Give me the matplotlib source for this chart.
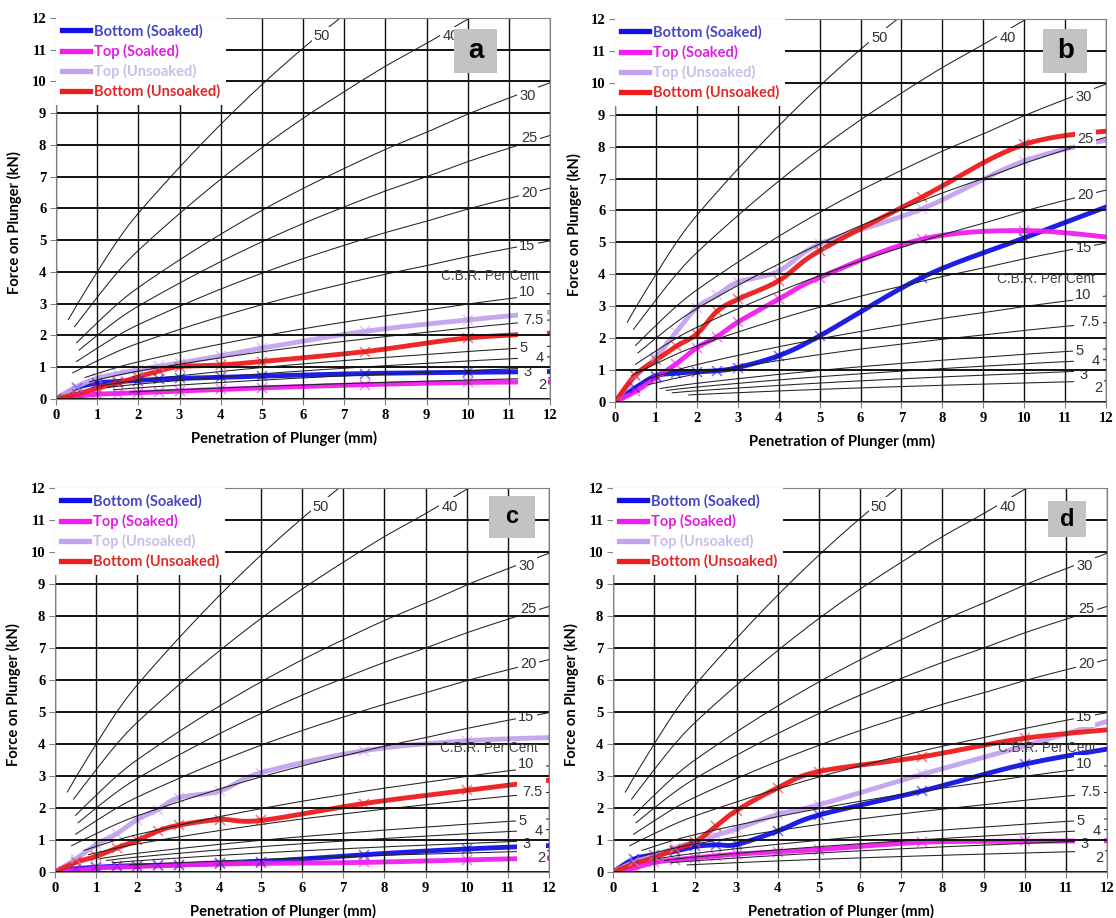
import numpy as np
import matplotlib
matplotlib.use("Agg")
import matplotlib.pyplot as plt
from matplotlib.lines import Line2D
from matplotlib.patches import Rectangle

# ---------------- data ----------------
PEN = [0, 0.5, 1, 1.5, 2, 2.5, 3, 4, 5, 7.5, 10, 12.5]

A_BS = [0, 0.35, 0.50, 0.55, 0.58, 0.62, 0.65, 0.68, 0.72, 0.80, 0.84, 0.87]
A_TS = [0, 0.08, 0.15, 0.17, 0.20, 0.22, 0.25, 0.30, 0.35, 0.45, 0.52, 0.54]
A_TU = [0, 0.39, 0.65, 0.80, 0.92, 1.03, 1.13, 1.36, 1.60, 2.13, 2.49, 2.80]
A_BU = [0, 0.15, 0.34, 0.50, 0.70, 0.88, 1.02, 1.07, 1.18, 1.49, 1.92, 2.10]

B_BS = [0, 0.45, 0.82, 0.90, 0.95, 0.98, 1.08, 1.45, 2.07, 3.90, 5.14, 6.35]
B_TS = [0, 0.33, 0.76, 1.20, 1.70, 2.05, 2.50, 3.22, 3.90, 5.10, 5.37, 5.10]
B_TU = [0, 0.80, 1.40, 2.20, 2.96, 3.35, 3.75, 4.10, 4.95, 6.05, 7.55, 8.35]
B_BU = [0, 0.85, 1.31, 1.75, 2.13, 2.85, 3.22, 3.80, 4.74, 6.42, 8.07, 8.55]

C_BS = [0, 0.10, 0.15, 0.18, 0.20, 0.21, 0.22, 0.27, 0.32, 0.54, 0.72, 0.85]
C_TS = [0, 0.05, 0.12, 0.15, 0.17, 0.20, 0.22, 0.25, 0.27, 0.30, 0.38, 0.45]
C_TU = [0, 0.40, 0.86, 1.20, 1.64, 1.95, 2.32, 2.53, 3.10, 3.79, 4.10, 4.22]
C_BU = [0, 0.30, 0.49, 0.75, 0.99, 1.28, 1.46, 1.64, 1.61, 2.14, 2.55, 2.95]

D_BS = [0, 0.40, 0.54, 0.65, 0.80, 0.85, 0.86, 1.28, 1.78, 2.53, 3.37, 3.95]
D_TS = [0, 0.12, 0.30, 0.38, 0.45, 0.50, 0.56, 0.63, 0.70, 0.93, 0.96, 0.98]
D_TU = [0, 0.30, 0.50, 0.75, 0.95, 1.15, 1.35, 1.80, 2.10, 3.05, 3.94, 4.90]
D_BU = [0, 0.25, 0.45, 0.70, 0.95, 1.43, 1.92, 2.63, 3.14, 3.60, 4.18, 4.50]

SERIES_NAMES = ["Bottom (Soaked)", "Top (Soaked)", "Top (Unsoaked)", "Bottom (Unsoaked)"]
PANEL_LETTERS = ["a", "b", "c", "d"]
PANEL_DATA = [
    [A_BS, A_TS, A_TU, A_BU],
    [B_BS, B_TS, B_TU, B_BU],
    [C_BS, C_TS, C_TU, C_BU],
    [D_BS, D_TS, D_TU, D_BU],
]

# standard (100 %) CBR curve
STD_PEN = [0.3, 0.5, 1, 1.5, 2, 3, 4, 5, 6, 7, 8, 9, 10, 11, 12]
STD_FORCE = [5.0, 5.9, 8.0, 10.0, 11.7, 14.6, 17.3, 19.8, 22.1, 24.2, 26.2, 28.0, 29.9, 31.6, 33.2]
CBR_LEVELS = [50, 40, 30, 25, 20, 15, 10, 7.5, 5, 4, 3, 2]
CBR_TEXT = ["50", "40", "30", "25", "20", "15", "10", "7.5", "5", "4", "3", "2"]
X_TICKS = list(range(13))
Y_TICKS = list(range(13))

# ---------------- layout / style ----------------
CBR_START = [0.3, 0.45, 0.5, 0.55, 0.5, 0.4, 0.7, 0.8, 1.1, 1.25, 1.4, 1.8]
CBR_LABEL_POS = [(6.46, 11.42), (9.59, 11.42), (11.45, 9.55), (11.5, 8.23), (11.5, 6.5),
                 (11.45, 4.83), (11.45, 3.36), (11.6, 2.5), (11.35, 1.6), (11.75, 1.28),
                 (11.45, 0.86), (11.8, 0.44)]
AX_POS = [[0.0502, 0.5654, 0.4427, 0.4150],
          [0.5511, 0.5621, 0.4400, 0.4172],
          [0.0493, 0.0501, 0.4427, 0.4183],
          [0.5493, 0.0501, 0.4427, 0.4183]]
TAG_BOX = [(9.67, 10.27, 1.04, 1.38), (10.47, 10.31, 1.07, 1.39),
           (10.54, 10.45, 1.12, 1.29), (10.56, 10.46, 0.94, 1.14)]
TAG_SIZE = [20, 20, 17, 17]
LINE_COLORS = ["#1212e6", "#f01cf0", "#c4a2ee", "#ee1c1c"]
TEXT_COLORS = ["#4646c0", "#e020e0", "#cbbde9", "#e02828"]
SANS = "Lato"
TICKFONT = dict(family="Liberation Serif", weight="bold", size=10.5)


def smooth(x, y, n=24):
    P = np.column_stack([np.asarray(x, float), np.asarray(y, float)])
    P = np.vstack([P[0], P, P[-1]])
    t = np.linspace(0, 1, n, endpoint=False)[:, None]
    out = []
    for i in range(1, len(P) - 2):
        p0, p1, p2, p3 = P[i - 1], P[i], P[i + 1], P[i + 2]
        c1 = p1 + (p2 - p0) / 6.0
        c2 = p2 - (p3 - p1) / 6.0
        out.append((1 - t) ** 3 * p1 + 3 * (1 - t) ** 2 * t * c1 + 3 * (1 - t) * t ** 2 * c2 + t ** 3 * p2)
    out.append(P[-2][None, :])
    out = np.vstack(out)
    return out[:, 0], out[:, 1]


std_x, std_y = smooth(STD_PEN, STD_FORCE, n=40)

fig = plt.figure(figsize=(11.16, 9.18), dpi=100)

for k in range(4):
    ax = fig.add_axes(AX_POS[k])
    ax.set_xlim(0, 12)
    ax.set_ylim(0, 12)

    # data lines (below the chart overlay)
    for s in range(4):
        vals = PANEL_DATA[k][s]
        sx, sy = smooth(PEN, vals)
        ax.plot(sx, sy, color=LINE_COLORS[s], lw=3.5, alpha=0.95, zorder=1.2,
                solid_capstyle="round")
        ax.plot(PEN, vals, ls="none", marker="x", ms=7, mew=1.2,
                color=LINE_COLORS[s], alpha=0.55, zorder=1.3)

    # CBR reference curves
    for i, lev in enumerate(CBR_LEVELS):
        m = std_x >= CBR_START[i]
        ax.plot(std_x[m], std_y[m] * lev / 100.0, color="#222222", lw=0.75, zorder=1.6)

    # white mask column for the low CBR labels
    ax.add_patch(Rectangle((11.22, 0.3), 0.71, 3.25, facecolor="white", edgecolor="none",
                           zorder=1.7))
    for i, lev in enumerate(CBR_LEVELS):
        lx, ly = CBR_LABEL_POS[i]
        ax.text(lx, ly, CBR_TEXT[i], ha="center", va="center", fontsize=10.5,
                family="Liberation Sans", color="#333333", zorder=1.8,
                bbox=dict(boxstyle="square,pad=0.15", facecolor="white", edgecolor="none"))
    ax.text(10.54, 3.86, "C.B.R. Per Cent", ha="center", va="center", fontsize=9.8,
            family="Liberation Sans", color="#444444", zorder=2.2)

    # grid
    ax.set_xticks(X_TICKS)
    ax.set_yticks(Y_TICKS)
    ax.set_xticklabels([str(v) for v in X_TICKS], fontdict=TICKFONT)
    ax.set_yticklabels([str(v) for v in Y_TICKS], fontdict=TICKFONT)
    ax.grid(True, axis="x", color="#111111", lw=1.0)
    ax.grid(True, axis="y", color="#111111", lw=1.4)
    ax.set_axisbelow(False)
    ax.xaxis.set_zorder(2.0)
    ax.yaxis.set_zorder(2.0)
    ax.tick_params(direction="out", length=4, width=0.8, color="#808080", pad=3)
    for sp in ax.spines.values():
        sp.set_color("#808080")
        sp.set_linewidth(0.8)
        sp.set_zorder(2.1)

    ax.set_xlabel("Penetration of Plunger (mm)", family=SANS, weight="bold", fontsize=10.6)
    ax.xaxis.set_label_coords(0.462, -0.083)
    ax.set_ylabel("Force on Plunger (kN)", family=SANS, weight="bold", fontsize=10.6)
    ax.yaxis.set_label_coords(-0.068, 0.462)

    # legend
    handles = [Line2D([0], [0], color=LINE_COLORS[s], lw=3.8) for s in range(4)]
    leg = ax.legend(handles, SERIES_NAMES, loc="upper left", bbox_to_anchor=(0.0, 1.0),
                    frameon=True, facecolor="white", edgecolor="none", framealpha=1,
                    fancybox=False, handlelength=1.9, handletextpad=0.3,
                    labelspacing=0.36, borderpad=0.4, borderaxespad=0.0,
                    prop=dict(family=SANS, weight="bold", size=10.5))
    for txt, c in zip(leg.get_texts(), TEXT_COLORS):
        txt.set_color(c)
    leg.set_zorder(5)

    # panel tag
    bx, by, bw, bh = TAG_BOX[k]
    ax.add_patch(Rectangle((bx, by), bw, bh, facecolor="#c3c3c3", edgecolor="none", zorder=6))
    ax.text(bx + bw / 2, by + bh / 2, PANEL_LETTERS[k], ha="center", va="center",
            fontsize=TAG_SIZE[k], weight="bold", family="Liberation Sans", color="black",
            zorder=7)

fig.savefig("out.png", dpi=100)
